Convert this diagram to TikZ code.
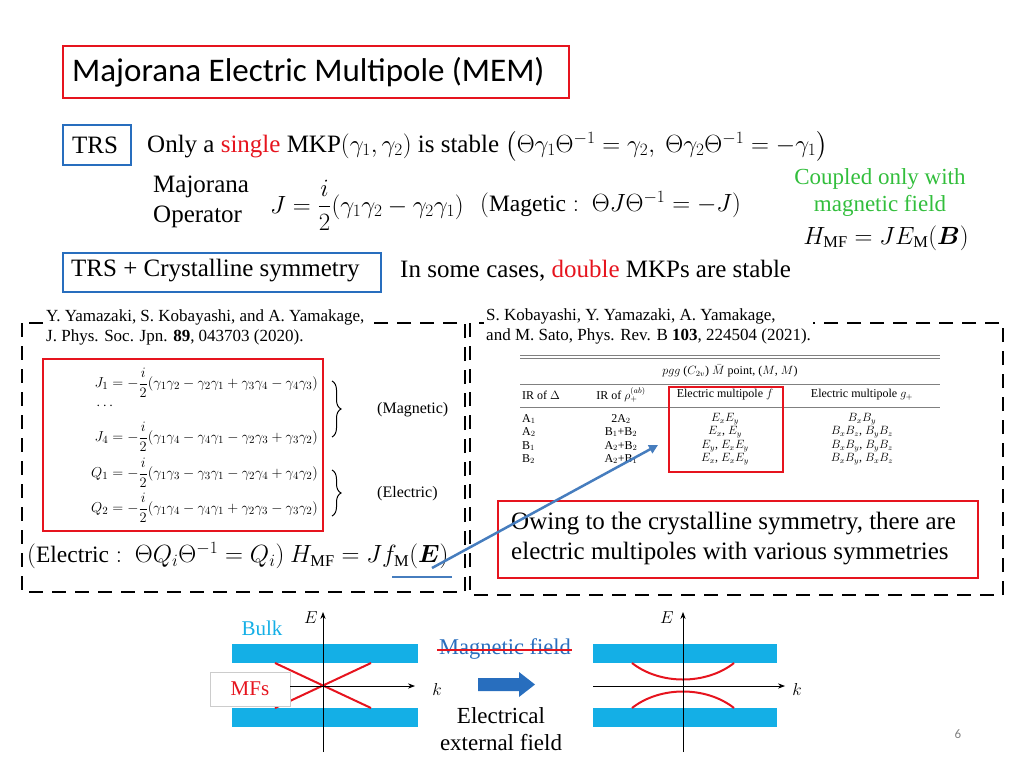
\documentclass[tikz,border=0pt]{standalone}
\usepackage{fontspec}
\usepackage{amsmath,bm}
\setmainfont{Liberation Serif}
\newfontfamily\calib{Carlito}
\usetikzlibrary{decorations.pathreplacing,arrows.meta}
\definecolor{myred}{RGB}{230,20,30}
\definecolor{myblue}{RGB}{40,110,190}
\definecolor{bandc}{RGB}{20,175,230}
\definecolor{mygreen}{RGB}{50,190,60}
\definecolor{arr}{RGB}{70,125,190}
\begin{document}
\begin{tikzpicture}[x=1pt,y=-1pt,
  redbox/.style={draw=myred,line width=2pt},
  bluebox/.style={draw=myblue,line width=2pt},
  dbox/.style={draw=black,line width=2.2pt,dash pattern=on 14pt off 9pt},
  txt/.style={inner sep=0pt,anchor=west,font=\rmfamily\fontsize{25}{30}\selectfont},
  mth/.style={inner sep=0pt,anchor=west,font=\rmfamily\fontsize{23.5}{28}\selectfont},
  sm/.style={inner sep=0pt,anchor=west,font=\rmfamily\fontsize{17}{20}\selectfont},
  tb/.style={inner sep=0pt,font=\rmfamily\fontsize{12}{13}\selectfont},
  band/.style={fill=bandc,draw=none}]
\useasboundingbox (0,0) rectangle (1024,768);
% title
\node[redbox,minimum width=506pt,minimum height=52pt,anchor=north west] (title) at (62,45) {};
\node[txt,font=\calib\fontsize{33}{36}\selectfont] (tt) at (72,72) {Majorana Electric Multipole (MEM)};
% TRS
\node[bluebox,minimum width=68pt,minimum height=40pt,anchor=north west] (trs) at (62,124) {};
\node[txt] (trst) at (72,145) {TRS};
\node[txt] (l1) at (147,146) {Only a \textcolor{myred}{single} MKP$(\gamma_1,\gamma_2)$ is stable $\left(\Theta\gamma_1\Theta^{-1}=\gamma_2,\ \Theta\gamma_2\Theta^{-1}=-\gamma_1\right)$};
\node[txt,align=left,anchor=north west] (mo) at (153,176) {Majorana\\Operator};
\node[mth] (jeq) at (270,205) {$J=\dfrac{i}{2}(\gamma_1\gamma_2-\gamma_2\gamma_1)$};
\node[mth] (mag) at (480,205) {$(\mathrm{Magetic}:\ \Theta J\Theta^{-1}=-J)$};
\node[txt,text=mygreen,align=center,anchor=center,font=\rmfamily\fontsize{23}{27}\selectfont] (cpl) at (880,193) {Coupled only with\\magnetic field};
\node[mth,anchor=center] (hmf) at (886,238) {$H_{\mathrm{MF}}=JE_{\mathrm{M}}(\bm{B})$};
% TRS + crystalline
\node[bluebox,minimum width=318pt,minimum height=39pt,anchor=north west] (trsc) at (62,252) {};
\node[txt] (trsct) at (71,271) {TRS + Crystalline symmetry};
\node[txt] (dbl) at (400,271) {In some cases, \textcolor{myred}{double} MKPs are stable};
% dashed boxes
\draw[dbox] (22,323) rectangle (465,592);
\draw[dbox] (470,323) rectangle (1003,595);
\node[sm,fill=white,align=left,anchor=west,inner sep=2pt] (ref1) at (44,327) {Y. Yamazaki, S. Kobayashi, and A. Yamakage,\\J. Phys. Soc. Jpn. \textbf{89}, 043703 (2020).};
\node[sm,fill=white,align=left,anchor=west,inner sep=2pt] (ref2) at (484,326) {S. Kobayashi, Y. Yamazaki, A. Yamakage,\\and M. Sato, Phys. Rev. B \textbf{103}, 224504 (2021).};
% equations
\node[redbox,minimum width=280pt,minimum height=172pt,anchor=north west,line width=1.6pt] (eqb) at (42,358) {};
\begin{scope}[every node/.style={inner sep=0pt,anchor=east,font=\fontsize{15}{17}\selectfont}]
\node (j1) at (318,383) {$J_1=-\dfrac{i}{2}(\gamma_1\gamma_2-\gamma_2\gamma_1+\gamma_3\gamma_4-\gamma_4\gamma_3)$};
\node (j4) at (318,437) {$J_4=-\dfrac{i}{2}(\gamma_1\gamma_4-\gamma_4\gamma_1-\gamma_2\gamma_3+\gamma_3\gamma_2)$};
\node (q1) at (318,473) {$Q_1=-\dfrac{i}{2}(\gamma_1\gamma_3-\gamma_3\gamma_1-\gamma_2\gamma_4+\gamma_4\gamma_2)$};
\node (q2) at (318,508) {$Q_2=-\dfrac{i}{2}(\gamma_1\gamma_4-\gamma_4\gamma_1+\gamma_2\gamma_3-\gamma_3\gamma_2)$};
\end{scope}
\node[inner sep=0pt,font=\fontsize{15}{17}\selectfont] (dots) at (106,406) {$\cdots$};
\draw[decorate,decoration={brace,amplitude=9pt},line width=1pt] (332,381) -- (332,437);
\draw[decorate,decoration={brace,amplitude=9pt},line width=1pt] (332,470) -- (332,516);
\node[sm,font=\rmfamily\fontsize{16}{18}\selectfont] (magl) at (377,410) {(Magnetic)};
\node[sm,font=\rmfamily\fontsize{16}{18}\selectfont] (ell) at (377,494) {(Electric)};
\node[mth] (elec) at (27,556) {$(\mathrm{Electric}:\ \Theta Q_i\Theta^{-1}=Q_i)\ H_{\mathrm{MF}}=Jf_{\mathrm{M}}(\bm{E})$};
\draw[arr,line width=2pt] (392,577) -- (452,577);
% table
\draw[gray,line width=0.6pt] (520,355) -- (940,355) (520,358.5) -- (940,358.5);
\draw[gray,line width=0.5pt] (520,384) -- (940,384) (520,407) -- (940,407);
\node[tb] (th) at (730,371) {$pgg$ ($C_{2v}$) $\bar M$ point, ($M$, $M$)};
\node[tb,anchor=west] (c1) at (522,395) {IR of $\Delta$};
\node[tb] (c2) at (621,395) {IR of $\rho_+^{(ab)}$};
\node[tb] (c3) at (725,395) {Electric multipole $f$};
\node[tb] (c4) at (862,395) {Electric multipole $g_+$};
\foreach \y/\a/\b/\c/\d [count=\i] in {419/A$_1$/2A$_2$/$E_xE_y$/$B_xB_y$,432/A$_2$/B$_1$+B$_2$/{$E_x$, $E_y$}/{$B_xB_z$, $B_yB_z$},446/B$_1$/A$_2$+B$_2$/{$E_y$, $E_xE_y$}/{$B_xB_y$, $B_yB_z$},459/B$_2$/A$_2$+B$_1$/{$E_x$, $E_xE_y$}/{$B_xB_y$, $B_xB_z$}}{
  \node[tb,anchor=west] (ra\i) at (522,\y) {\a};
  \node[tb] (rb\i) at (621,\y) {\b};
  \node[tb] (rc\i) at (725,\y) {\c};
  \node[tb] (rd\i) at (862,\y) {\d};
}
\node[draw=myred,line width=1.6pt,minimum width=114pt,minimum height=85pt,anchor=north west] (fbox) at (668,386) {};
% owing box
\node[redbox,minimum width=480pt,minimum height=77pt,anchor=north west] (owb) at (497,500) {};
\node[txt,align=left] (ow) at (511,539) {Owing to the crystalline symmetry, there are\\electric multipoles with various symmetries};
\coordinate (as) at (432,568);
\coordinate (ae) at (658,445);
\draw[arr,line width=2.5pt,-{Triangle[length=9pt,width=9pt]}] (as) -- (ae);
% bottom left
\fill[band] (232,644) rectangle (418,663);
\fill[band] (232,708) rectangle (418,727);
\draw[myred,line width=2pt] (275,663) -- (371,708) (371,663) -- (275,708);
\node[draw=gray!40,fill=white,minimum width=80pt,minimum height=34pt,font=\rmfamily\fontsize{21}{24}\selectfont,text=myred] (mfs) at (250,689) {MFs};
\draw[-{Stealth[length=7pt]},line width=0.8pt] (323,752) -- (323,612);
\draw[-{Stealth[length=7pt]},line width=0.8pt] (290,686) -- (415,686);
\node[inner sep=0pt,font=\fontsize{17}{20}\selectfont] (E1) at (311,618) {$E$};
\node[inner sep=0pt,font=\fontsize{17}{20}\selectfont] (k1) at (437,689) {$k$};
\node[txt,anchor=center,text=bandc,font=\rmfamily\fontsize{21}{24}\selectfont] (bulk) at (262,628) {Bulk};
\node[txt,anchor=center,text=myblue,font=\rmfamily\fontsize{22.5}{26}\selectfont] (mf) at (505,649) {Magnetic field};
\draw[myred,line width=2pt] (437,650) -- (572,650);
\fill[myblue] (478,678) -- (519,678) -- (519,672) -- (535,684.5) -- (519,697) -- (519,691) -- (478,691) -- cycle;
\node[txt,anchor=center,align=center,font=\rmfamily\fontsize{23}{27}\selectfont] (eef) at (501,729) {Electrical\\external field};
% bottom right
\fill[band] (593,644) rectangle (777,663);
\fill[band] (593,708) rectangle (777,727);
\draw[myred,line width=2pt] (632,663) .. controls (660,685) and (706,685) .. (734,663);
\draw[myred,line width=2pt] (632,708) .. controls (660,686) and (706,686) .. (734,708);
\draw[-{Stealth[length=7pt]},line width=0.8pt] (683,752) -- (683,612);
\draw[-{Stealth[length=7pt]},line width=0.8pt] (593,686) -- (785,686);
\node[inner sep=0pt,font=\fontsize{17}{20}\selectfont] (E2) at (667,618) {$E$};
\node[inner sep=0pt,font=\fontsize{17}{20}\selectfont] (k2) at (797,689) {$k$};
\node[inner sep=0pt,text=gray,font=\calib\fontsize{13}{15}\selectfont] (pg) at (958,734) {6};
\end{tikzpicture}
\end{document}
